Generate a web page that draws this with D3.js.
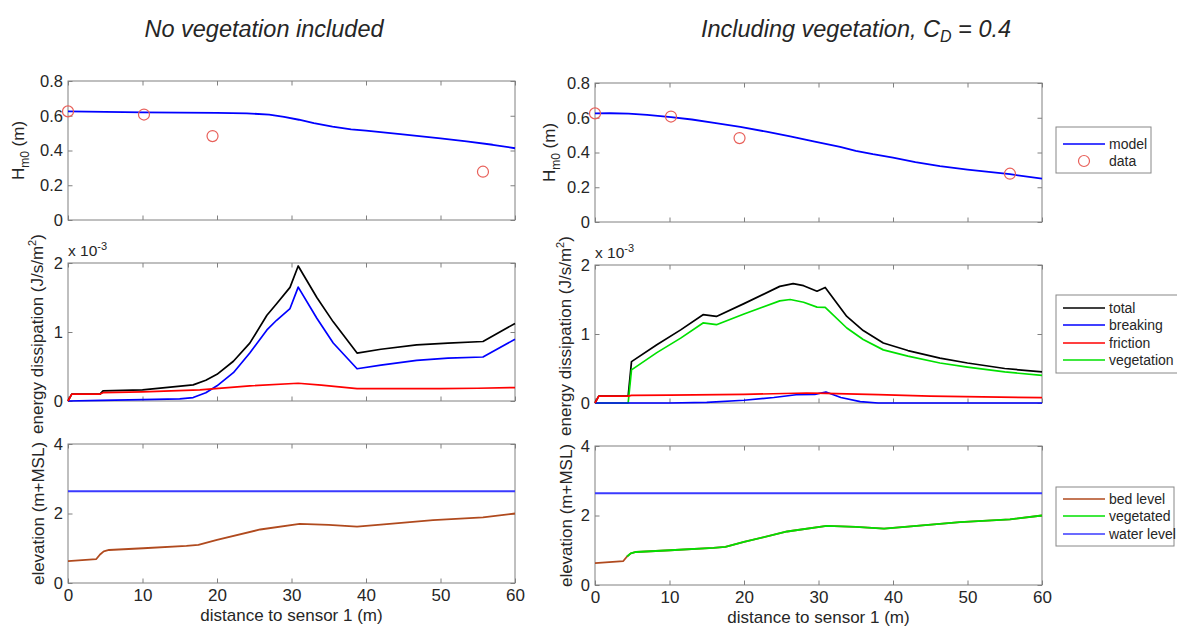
<!DOCTYPE html>
<html lang="en">
<head>
<meta charset="UTF-8">
<title>Wave height, dissipation and bed level</title>
<script src="https://cdnjs.cloudflare.com/ajax/libs/d3/7.8.5/d3.min.js"></script>
<style>
  body { margin: 0; background: #fff; }
  svg text { font-family: "Liberation Sans", Arial, sans-serif; fill: #262626; }
</style>
</head>
<body>
<div id="chart"></div>
<script>
// ---------- data ----------
const distTicks = [0, 10, 20, 30, 40, 50, 60];
const hm0Ticks = [0, 0.2, 0.4, 0.6, 0.8];
const dissTicks = [0, 1, 2];          // units of 1e-3 J/s/m2
const elevTicks = [0, 2, 4];

// wave height Hm0 (m)
const hm0ModelNoVeg = [[0,0.625],[5,0.622],[10,0.62],[15,0.618],[20,0.616],[24,0.614],[27,0.606],[29,0.594],[31,0.577],[33,0.557],[35.5,0.537],[38,0.522],[40,0.514],[44.6,0.494],[50,0.47],[53.5,0.452],[57,0.433],[60,0.413]];
const hm0ModelVeg = [[0,0.625],[2,0.626],[4.5,0.624],[7,0.616],[10.2,0.604],[13,0.59],[16,0.571],[19.5,0.547],[23,0.52],[26.2,0.493],[29.5,0.463],[32.9,0.432],[35,0.41],[37.3,0.39],[40,0.37],[43,0.345],[46.3,0.322],[50,0.302],[55.7,0.275],[60,0.25]];
const hm0DataX = [0, 10.2, 19.4, 55.7];
const hm0DataY = [0.625, 0.607, 0.483, 0.278];

// energy dissipation (x 1e-3 J/s/m2), no vegetation
const dissNoVegTotal = [[0,0],[0.5,0.1],[4.3,0.1],[4.7,0.147],[10,0.16],[16.8,0.233],[18.5,0.3],[20,0.386],[22.2,0.576],[24.4,0.838],[26.7,1.243],[28,1.41],[29.8,1.647],[30.9,1.957],[33.4,1.5],[35.6,1.147],[38.8,0.695],[42,0.75],[46.8,0.814],[51,0.84],[55.7,0.862],[60,1.124]];
const dissNoVegBreaking = [[0,0],[4.5,0.01],[10,0.02],[15,0.03],[16.8,0.05],[18.5,0.12],[20,0.22],[22.2,0.41],[24.4,0.695],[26.7,1.03],[28,1.17],[29.8,1.34],[30.9,1.65],[33.4,1.2],[35.6,0.84],[38.8,0.467],[42,0.52],[46.8,0.59],[51,0.62],[55.7,0.638],[60,0.895]];
const dissNoVegFriction = [[0,0],[0.5,0.1],[4.3,0.1],[4.7,0.12],[10,0.133],[17.7,0.16],[24.4,0.22],[30.9,0.257],[34,0.23],[38.8,0.18],[45,0.18],[50,0.18],[55,0.185],[60,0.195]];

// energy dissipation (x 1e-3 J/s/m2), with vegetation
const dissVegTotal = [[0,0],[0.5,0.1],[4.45,0.1],[4.9,0.6],[8.3,0.845],[11.5,1.06],[14.5,1.28],[16.3,1.255],[20,1.44],[24.8,1.69],[26.6,1.73],[28,1.7],[29.8,1.62],[30.9,1.675],[33.8,1.255],[36,1.05],[38.7,0.87],[42,0.76],[46.3,0.65],[50,0.58],[55,0.5],[60,0.45]];
const dissVegBreaking = [[0,0],[10,0],[15,0.01],[20,0.04],[24,0.08],[27,0.12],[29.5,0.125],[31,0.16],[33,0.08],[35.6,0.02],[38,0],[60,0]];
const dissVegFriction = [[0,0],[0.5,0.1],[4.45,0.1],[4.9,0.11],[10,0.115],[20,0.125],[28.4,0.145],[31,0.14],[38,0.12],[45,0.1],[52,0.09],[60,0.077]];
const dissVegVegetation = [[0,0],[4.45,0],[4.9,0.48],[8.3,0.73],[11.5,0.94],[14.5,1.16],[16.3,1.135],[20,1.29],[24.8,1.48],[26.2,1.5],[28,1.46],[29.8,1.39],[30.9,1.385],[33.8,1.087],[36,0.92],[38.7,0.77],[42,0.68],[46.3,0.58],[50,0.52],[55,0.45],[60,0.4]];

// elevation (m+MSL)
const bedLevel = [[0,0.63],[3.8,0.69],[4.3,0.82],[4.8,0.91],[5.5,0.95],[10.1,1.0],[15.9,1.07],[17.5,1.1],[20,1.24],[25.8,1.54],[31.1,1.7],[35,1.67],[38.8,1.62],[42,1.68],[49,1.81],[55.7,1.89],[60,2.0]];
const vegetationStart = 4.3;
const waterLevel = 2.64;

// ---------- chart ----------
const W = 1177, H = 626;
const svg = d3.select("#chart").append("svg").attr("width", W).attr("height", H);

const C = {
  model: "#0000ff", data: "#e8605a",
  total: "#000000", breaking: "#0000ff", friction: "#ff0000", veg: "#00e000",
  bed: "#b04a1e", water: "#3a3aff", axis: "#808080"
};

const cols = [
  { x0: 68, x1: 515, dy: 0, tx: 264, ylx: 24, ylx2: 43 },
  { x0: 595, x1: 1042, dy: 2, tx: 856, ylx: 555, ylx2: 571 }
];
const rows = [
  { t: 81, b: 220, dom: [0, 0.8], ticks: hm0Ticks },
  { t: 263, b: 401, dom: [0, 2], ticks: dissTicks },
  { t: 444, b: 583, dom: [0, 4], ticks: elevTicks }
];

function panel(col, row, last) {
  const x = d3.scaleLinear().domain([0, 60]).range([col.x0, col.x1]);
  const y = d3.scaleLinear().domain(row.dom).range([row.b + col.dy, row.t + col.dy]);
  const g = svg.append("g");
  const fmt = d3.format("~g");

  g.append("rect").attr("x", col.x0).attr("y", row.t + col.dy)
    .attr("width", col.x1 - col.x0).attr("height", row.b - row.t)
    .attr("fill", "none").attr("stroke", C.axis).attr("stroke-width", 1);

  const ax = (a, tr) => {
    const s = g.append("g").attr("transform", tr).call(a);
    s.select(".domain").remove();
    s.selectAll(".tick line").attr("stroke", C.axis);
    s.selectAll("text").attr("font-family", null).attr("fill", "#262626");
    return s;
  };
  const xb = ax(d3.axisBottom(x).tickValues(distTicks).tickSize(-4.5).tickPadding(6)
      .tickFormat(last ? fmt : ""), `translate(0,${y.range()[0]})`);
  xb.selectAll("text").attr("font-size", 17);
  ax(d3.axisTop(x).tickValues(distTicks).tickSize(-4.5).tickFormat(""), `translate(0,${y.range()[1]})`);
  const yl = ax(d3.axisLeft(y).tickValues(row.ticks).tickSize(-4.5).tickPadding(5).tickFormat(fmt),
      `translate(${col.x0},0)`);
  yl.selectAll("text").attr("font-size", 16.5);
  ax(d3.axisRight(y).tickValues(row.ticks).tickSize(-4.5).tickFormat(""), `translate(${col.x1},0)`);
  return { g, x, y };
}

function drawLine(p, pts, color, w) {
  const line = d3.line().x(d => p.x(d[0])).y(d => p.y(d[1]));
  p.g.append("path").attr("d", line(pts)).attr("fill", "none")
    .attr("stroke", color).attr("stroke-width", w || 1.7).attr("stroke-linejoin", "round");
}

function rotLabel(x, cy, parts, size) {
  const t = svg.append("text").attr("transform", `translate(${x},${cy}) rotate(-90)`)
    .attr("text-anchor", "middle").attr("font-size", size || 17);
  parts.forEach(([s, kind]) => {
    const ts = t.append("tspan").text(s);
    if (kind === "sub") ts.attr("font-size", 12).attr("dy", 5);
    if (kind === "unsub") ts.attr("dy", -5);
    if (kind === "sup") ts.attr("font-size", 11).attr("dy", -7);
    if (kind === "unsup") ts.attr("dy", 7);
  });
}

const seriesTop = [hm0ModelNoVeg, hm0ModelVeg];
const seriesMid = [
  [[dissNoVegTotal, C.total], [dissNoVegBreaking, C.breaking], [dissNoVegFriction, C.friction]],
  [[dissVegTotal, C.total], [dissVegVegetation, C.veg], [dissVegBreaking, C.breaking], [dissVegFriction, C.friction]]
];

cols.forEach((col, ci) => {
  // top: Hm0
  const p1 = panel(col, rows[0], false);
  drawLine(p1, seriesTop[ci], C.model, 1.8);
  p1.g.selectAll("circle.d").data(hm0DataX).join("circle")
    .attr("cx", d => p1.x(d)).attr("cy", (d, i) => p1.y(hm0DataY[i])).attr("r", 5.5)
    .attr("fill", "none").attr("stroke", C.data).attr("stroke-width", 1.2);

  // middle: dissipation
  const p2 = panel(col, rows[1], false);
  seriesMid[ci].forEach(([pts, c]) => drawLine(p2, pts, c, 1.7));
  const ex = svg.append("text").attr("x", col.x0).attr("y", rows[1].t + col.dy - 7).attr("font-size", 15.5);
  ex.append("tspan").text("x 10");
  ex.append("tspan").text("-3").attr("font-size", 11).attr("dy", -6);

  // bottom: elevation
  const p3 = panel(col, rows[2], true);
  drawLine(p3, [[0, waterLevel], [60, waterLevel]], C.water, 1.8);
  drawLine(p3, bedLevel, C.bed, 1.8);
  if (ci === 1) drawLine(p3, bedLevel.filter(d => d[0] >= vegetationStart), C.veg, 1.8);

  // axis labels
  rotLabel(col.ylx, (rows[0].t + rows[0].b) / 2 + col.dy, [["H", ""], ["m0", "sub"], [" (m)", "unsub"]]);
  rotLabel(col.ylx2, (rows[1].t + rows[1].b) / 2 + col.dy + 2,
    [["energy dissipation (J/s/m", ""], ["2", "sup"], [")", "unsup"]]);
  rotLabel(col.ylx2 + 1, (rows[2].t + rows[2].b) / 2 + col.dy, [["elevation (m+MSL)", ""]]);
  svg.append("text").attr("x", (col.x0 + col.x1) / 2).attr("y", 621 + col.dy)
    .attr("text-anchor", "middle").attr("font-size", 17).text("distance to sensor 1 (m)");
});

// titles
svg.append("text").attr("x", cols[0].tx).attr("y", 37).attr("text-anchor", "middle")
  .attr("font-size", 23.5).attr("font-style", "italic").text("No vegetation included");
const t2 = svg.append("text").attr("x", cols[1].tx).attr("y", 37).attr("text-anchor", "middle")
  .attr("font-size", 23.5).attr("font-style", "italic");
t2.append("tspan").text("Including vegetation, C");
t2.append("tspan").text("D").attr("font-size", 16).attr("dy", 5);
t2.append("tspan").text(" = 0.4").attr("dy", -5);

// legends
function legend(x, y, w, h, items) {
  const g = svg.append("g");
  g.append("rect").attr("x", x).attr("y", y).attr("width", w).attr("height", h)
    .attr("fill", "#fff").attr("stroke", "#888").attr("stroke-width", 1);
  items.forEach(it => {
    const cy = it.y;
    if (it.marker) {
      g.append("circle").attr("cx", x + 28).attr("cy", cy).attr("r", 5.5)
        .attr("fill", "none").attr("stroke", it.color).attr("stroke-width", 1.2);
    } else {
      g.append("line").attr("x1", x + 7).attr("x2", x + 49).attr("y1", cy).attr("y2", cy)
        .attr("stroke", it.color).attr("stroke-width", 1.6);
    }
    g.append("text").attr("x", x + 53).attr("y", cy + 5).attr("font-size", 14).text(it.label);
  });
}
legend(1056, 127, 95, 46, [
  { label: "model", color: C.model, y: 144 },
  { label: "data", color: C.data, marker: true, y: 161 }
]);
legend(1056, 295, 124, 78, [
  { label: "total", color: C.total, y: 308 },
  { label: "breaking", color: C.breaking, y: 325 },
  { label: "friction", color: C.friction, y: 343 },
  { label: "vegetation", color: C.veg, y: 360 }
]);
legend(1056, 487, 118, 59, [
  { label: "bed level", color: C.bed, y: 499 },
  { label: "vegetated", color: C.veg, y: 516 },
  { label: "water level", color: C.water, y: 534 }
]);
</script>
</body>
</html>
